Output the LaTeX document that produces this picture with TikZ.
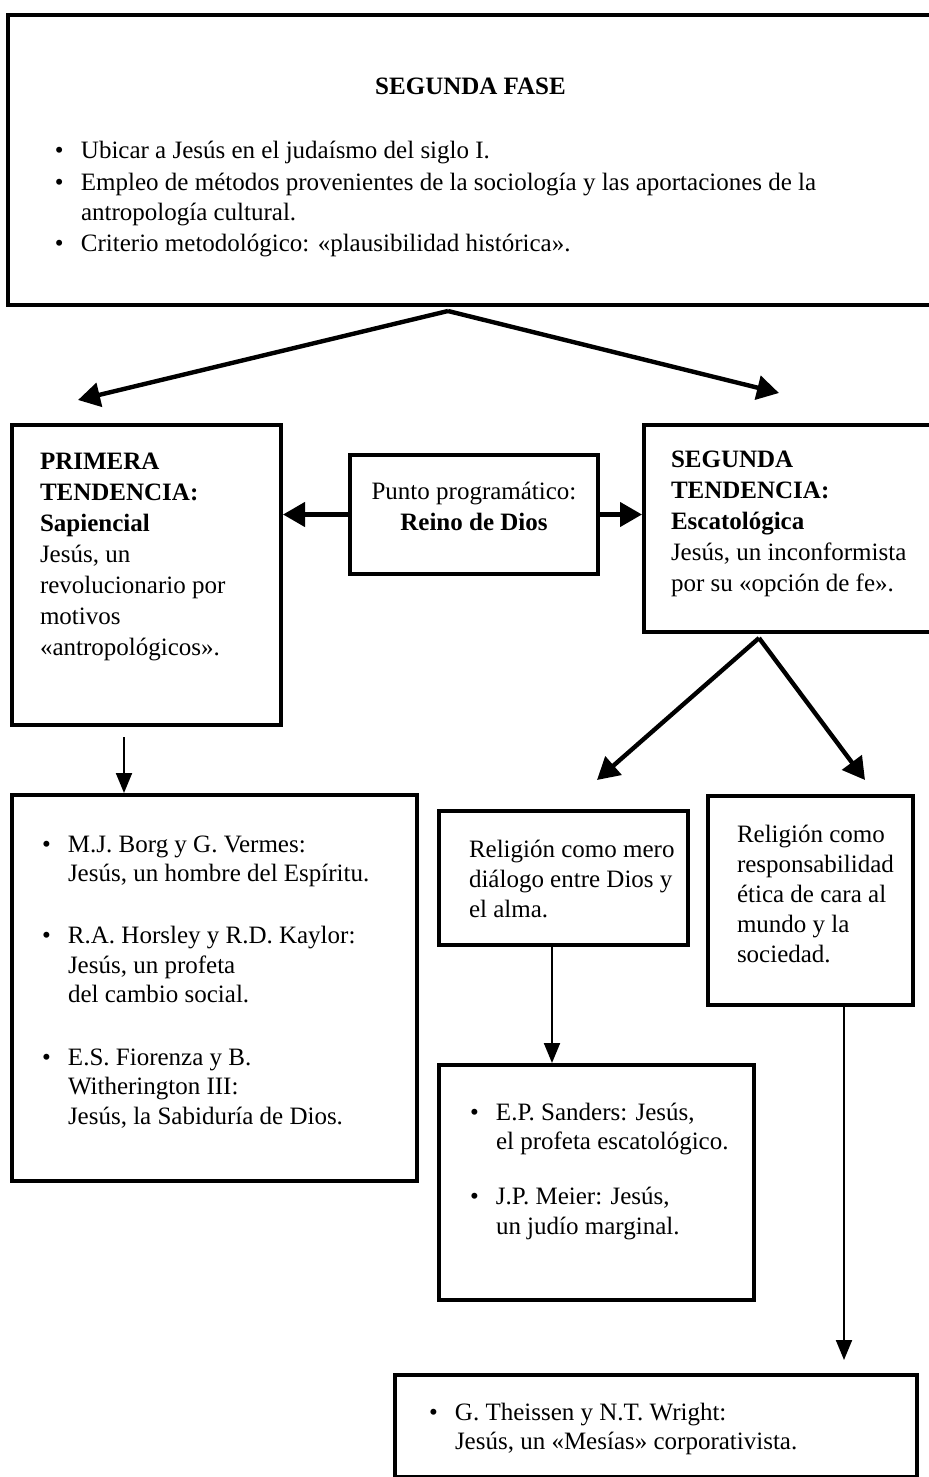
\documentclass[tikz,border=0pt]{standalone}
\usepackage{fontspec}
\setmainfont{Liberation Serif}
\usetikzlibrary{arrows.meta,calc}

\newcommand{\bitem}[1]{\noindent\makebox[13pt][l]{\textbullet}\hangindent=13pt\hangafter=1 #1\par}
\newcommand{\boxtext}[5]{\parbox[t][#2][t]{#1}{\raggedright\leftskip=#3\relax\rule{0pt}{#4}#5}}

\tikzset{
  box/.style={draw, line width=2pt, anchor=north west, inner sep=0pt},
  listfont/.style={font=\fontsize{12.5}{14.75}\selectfont},
  bigarrow/.style={line width=2.2pt, -{Triangle[length=11pt,width=12pt]}},
  smallarrow/.style={line width=1pt, -{Triangle[length=10pt,width=8pt]}},
}

\begin{document}
\begin{tikzpicture}[x=0.5pt, y=-0.5pt, font=\fontsize{12.5}{15.5}\selectfont]
  \useasboundingbox (0,0) rectangle (928,1477);

  \node[box] (fase) at (6,13) {\parbox[t][145pt][t]{462.5pt}{%
    {\centering\rule{0pt}{40pt}\textbf{SEGUNDA FASE}\par}
    \vspace{16.5pt}
    \raggedright\leftskip=23.5pt
    \bitem{Ubicar a Jesús en el judaísmo del siglo I.}
    \bitem{Empleo de métodos provenientes de la sociología y las aportaciones de la\newline antropología cultural.}
    \bitem{Criterio metodológico: «plausibilidad histórica».}}};

  \node[box] (prim) at (10,423) {\boxtext{134.5pt}{150pt}{14pt}{22pt}{%
    \textbf{PRIMERA}\\\textbf{TENDENCIA:}\\\textbf{Sapiencial}\\Jesús, un\\revolucionario por\\motivos\\«antropológicos».}};
  \node[box] (punto) at (348,453) {\parbox[t][59.5pt][t]{124pt}{%
    \centering\rule{0pt}{22pt}Punto programático:\\\textbf{Reino de Dios}}};
  \node[box] (seg) at (642,423) {\boxtext{144.5pt}{103.5pt}{13.5pt}{21pt}{%
    \textbf{SEGUNDA}\\\textbf{TENDENCIA:}\\\textbf{Escatológica}\\Jesús, un inconformista\\por su «opción de fe».}};

  \node[box, listfont] (borg) at (10,793) {\boxtext{202.5pt}{193pt}{15pt}{28.5pt}{%
    \bitem{M.J. Borg y G. Vermes:\newline Jesús, un hombre del Espíritu.}
    \vspace{16.4pt}
    \bitem{R.A. Horsley y R.D. Kaylor:\newline Jesús, un profeta\newline del cambio social.}
    \vspace{16.4pt}
    \bitem{E.S. Fiorenza y B.\newline Witherington III:\newline Jesús, la Sabiduría de Dios.}}};
  \node[box, font=\fontsize{12.5}{15}\selectfont] (alma) at (437,809) {\boxtext{124.5pt}{67pt}{15pt}{23pt}{%
    Religión como mero\\diálogo entre Dios y\\el alma.}};
  \node[box, font=\fontsize{12.5}{15}\selectfont] (etica) at (706,794) {\boxtext{102.5pt}{104.5pt}{14.5pt}{23pt}{%
    Religión como\\responsabilidad\\ética de cara al\\mundo y la\\sociedad.}};
  \node[box, listfont] (sanders) at (437,1063) {\boxtext{157.5pt}{117.5pt}{15.5pt}{27.5pt}{%
    \bitem{E.P. Sanders: Jesús,\newline el profeta escatológico.}
    \vspace{12.75pt}
    \bitem{J.P. Meier: Jesús,\newline un judío marginal.}}};
  \node[box, listfont] (theissen) at (393,1373) {\boxtext{261pt}{51pt}{17pt}{22.5pt}{%
    \bitem{G. Theissen y N.T. Wright:\newline Jesús, un «Mesías» corporativista.}}};

  \coordinate (faseL) at (78,400);
  \coordinate (faseR) at (779,393);
  \coordinate (segL) at (597,780);
  \coordinate (segR) at (865,780);

  \draw[bigarrow] ($(fase.south)+(-22.5,4)$) -- (faseL);
  \draw[bigarrow] ($(fase.south)+(-22.5,4)$) -- (faseR);
  \draw[bigarrow] (punto.west) -- (punto.west -| prim.east);
  \draw[bigarrow] (punto.east) -- (punto.east -| seg.west);
  \draw[bigarrow] ($(seg.south)+(-29.5,4)$) -- (segL);
  \draw[bigarrow] ($(seg.south)+(-29.5,4)$) -- (segR);
  \draw[smallarrow] ($(prim.south)+(-22.5,10)$) -- ($(prim.south |- borg.north)+(-22.5,0)$);
  \draw[smallarrow] ($(alma.south)+(-11.5,0)$) -- ($(alma.south |- sanders.north)+(-11.5,0)$);
  \draw[smallarrow] ($(etica.south)+(33.5,0)$) -- ($(etica.south |- theissen.north)+(33.5,-13)$);
\end{tikzpicture}
\end{document}
